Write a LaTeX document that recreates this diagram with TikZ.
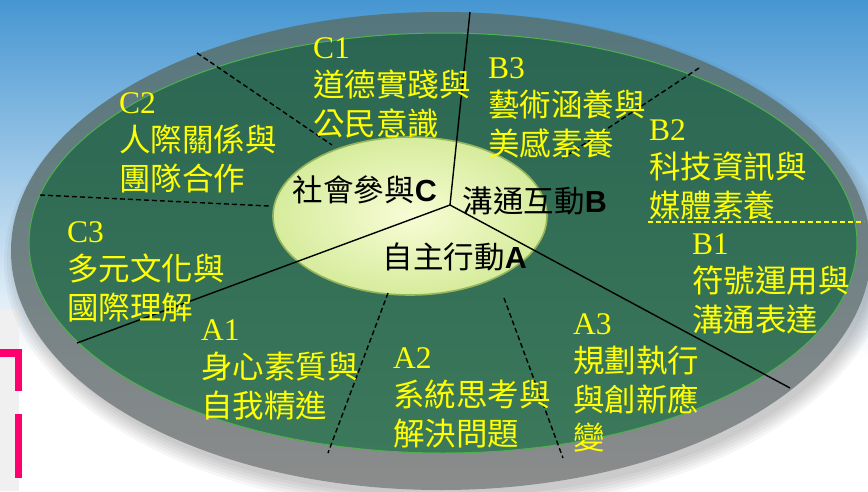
\documentclass[tikz,border=0pt]{standalone}
\usepackage{fontspec}
\setmainfont{Liberation Serif}
\newfontfamily\cjk{Noto Sans CJK TC}
\newfontfamily\arial{Liberation Sans}
\usepackage{xcolor}
\definecolor{mysky}{RGB}{70,150,210}
\definecolor{myskylight}{RGB}{200,224,242}
\definecolor{mygreen}{RGB}{42,102,82}
\definecolor{mygreenmid}{RGB}{62,108,93}
\definecolor{mygreenlow}{RGB}{60,120,90}
\definecolor{myrim}{RGB}{140,140,140}
\definecolor{myrimtop}{RGB}{84,118,124}
\definecolor{mycore}{RGB}{248,252,214}
\definecolor{mycoreedge}{RGB}{214,236,156}
\definecolor{mycoreline}{RGB}{150,180,90}
\definecolor{mypink}{RGB}{255,0,110}
\definecolor{myyellow}{RGB}{255,255,0}
\usetikzlibrary{calc}

\begin{document}
\begin{tikzpicture}[x=1pt,y=-1pt,line cap=butt]
	\tikzstyle{lab}=[anchor=north west,inner sep=0pt,align=left,text=myyellow,font=\fontsize{31.5}{38.5}\selectfont];
	\tikzstyle{core}=[inner sep=0pt,font=\fontsize{30.5}{31}\selectfont];
	\tikzstyle{cut}=[line width=1.4pt,black];
	\tikzstyle{sub}=[line width=1.4pt,black,dash pattern=on 5pt off 3pt];
	\useasboundingbox (0,0) rectangle (868,491);
	%%
	\fill[white] (0,0) rectangle (868,491);
	\shade[top color=mysky,middle color=myskylight,bottom color=white] (0,0) rectangle (868,360);
	\fill[black!6] (0,310) rectangle (19,491);
	\fill[mypink] (0,349) rectangle (22,357);
	\fill[mypink] (15,349) rectangle (22,391);
	\fill[mypink] (15,414) rectangle (22,478);
	%%
	\coordinate (M) at (443,243);
	\coordinate (N) at (410,216);
	\coordinate (O) at (450,205);
	\coordinate (T) at (470,12);
	\coordinate (L) at (77,343);
	\coordinate (R) at (790,388);
	%%
	\foreach \i in {1,...,6}
		\fill[black,opacity=0.035] (446,262) ellipse [x radius=424+3*\i, y radius=232+3*\i];
	\shade[top color=myrimtop,bottom color=myrim] (441,251) ellipse [x radius=430, y radius=239];
	\shade[top color=mygreen,middle color=mygreenmid,bottom color=mygreenlow] (M) ellipse [x radius=414, y radius=210];
	\draw[line width=1pt,green!40!gray] (M) ellipse [x radius=414, y radius=210];
	%%
	\shade[inner color=mycore,outer color=mycoreedge] (N) ellipse [x radius=137, y radius=79];
	\draw[line width=1.6pt,mycoreline] (N) ellipse [x radius=137, y radius=79];
	%%
	\draw[cut] (O) -- (T);
	\draw[cut] (O) -- (L);
	\draw[cut] (O) -- (R);
	%%
	\draw[sub] (197,53) -- (332,145);
	\draw[sub] (40,195) -- (269,206);
	\draw[sub] (699,68) -- (563,158);
	\draw[sub] (388,293) -- (328,453);
	\draw[sub] (504,298) -- (563,458);
	\draw[line width=1.4pt,myyellow,dash pattern=on 5pt off 3pt] (648,222) -- (864,222);
	%%
	\node[core] (socC) at (365,190) {{\cjk 社會參與}{\arial\bfseries C}};
	\node[core] (comB) at (535,201) {{\cjk 溝通互動}{\arial\bfseries B}};
	\node[core] (autA) at (455,257) {{\cjk 自主行動}{\arial\bfseries A}};
	%%
	\node[lab] (c1) at (313,37)  {C1\\{\cjk 道德實踐與}\\{\cjk 公民意識}};
	\node[lab] (b3) at (488,57)  {B3\\{\cjk 藝術涵養與}\\{\cjk 美感素養}};
	\node[lab] (c2) at (119,92)  {C2\\{\cjk 人際關係與}\\{\cjk 團隊合作}};
	\node[lab] (b2) at (649,119) {B2\\{\cjk 科技資訊與}\\{\cjk 媒體素養}};
	\node[lab] (c3) at (67,221)  {C3\\{\cjk 多元文化與}\\{\cjk 國際理解}};
	\node[lab] (b1) at (692,233) {B1\\{\cjk 符號運用與}\\{\cjk 溝通表達}};
	\node[lab] (a1) at (201,319) {A1\\{\cjk 身心素質與}\\{\cjk 自我精進}};
	\node[lab] (a2) at (393,347) {A2\\{\cjk 系統思考與}\\{\cjk 解決問題}};
	\node[lab] (a3) at (573,313) {A3\\{\cjk 規劃執行}\\{\cjk 與創新應}\\{\cjk 變}};
\end{tikzpicture}
\end{document}
